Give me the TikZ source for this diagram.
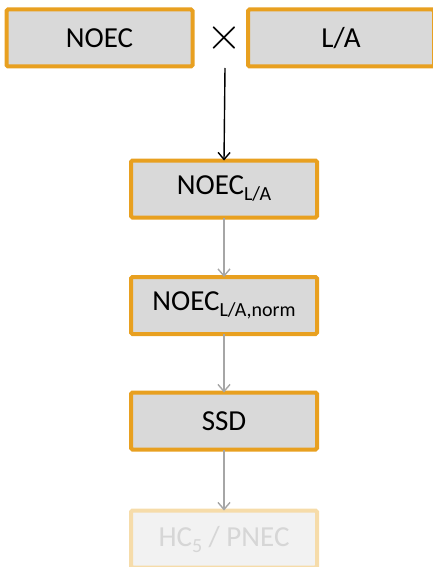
\documentclass[tikz,border=0pt]{standalone}
\usepackage{fontspec}
\setmainfont{Carlito}
\usetikzlibrary{arrows.meta}
\definecolor{boxfill}{HTML}{D9D9D9}
\definecolor{boxedge}{HTML}{E8A020}
\definecolor{arrgray}{HTML}{A6A6A6}
\definecolor{fadefill}{HTML}{F2F2F2}
\definecolor{fadeedge}{HTML}{F6DCAA}
\definecolor{fadetext}{HTML}{D6D6D6}
\tikzset{
  stepbox/.style={draw=boxedge, fill=boxfill, line width=4pt, rounded corners=1.5pt,
    minimum width=186pt, minimum height=57pt, inner sep=0pt, outer sep=0pt,
    font=\fontsize{29}{29}\selectfont, text=black},
  fadebox/.style={stepbox, draw=fadeedge, fill=fadefill, text=fadetext},
  blackarr/.style={draw=black, line width=1.4pt, -{Straight Barb[length=7pt,width=12pt,line width=1.4pt]}},
  grayarr/.style={draw=arrgray, line width=1.4pt, -{Straight Barb[length=7pt,width=12pt,line width=1.4pt]}}
}
\newcommand{\subtxt}[1]{\raisebox{-6pt}{\fontsize{20}{20}\selectfont #1}}
\begin{document}
\begin{tikzpicture}[x=1pt,y=-1pt]
\useasboundingbox (0,0) rectangle (433,567);
\node[stepbox] (noec) at (99.5,38) {NOEC};
\node[stepbox] (la) at (341,38) {L/A};
\node[inner sep=0pt, scale=4.6] (times) at (224,38.5) {$\times$};
\coordinate (xs) at (225,68);
\node[stepbox] (nla) at (224,189) {NOEC\subtxt{L/A}};
\node[stepbox] (nlan) at (224,305.5) {NOEC\subtxt{L/A,norm}};
\node[stepbox] (ssd) at (224,421) {SSD};
\node[fadebox] (hc) at (224,539) {HC\subtxt{5} / PNEC};
\draw[blackarr] (xs) -- (nla.north);
\draw[grayarr] (nla) -- (nlan);
\draw[grayarr] (nlan) -- (ssd);
\draw[grayarr] (ssd) -- (hc);
\end{tikzpicture}
\end{document}
